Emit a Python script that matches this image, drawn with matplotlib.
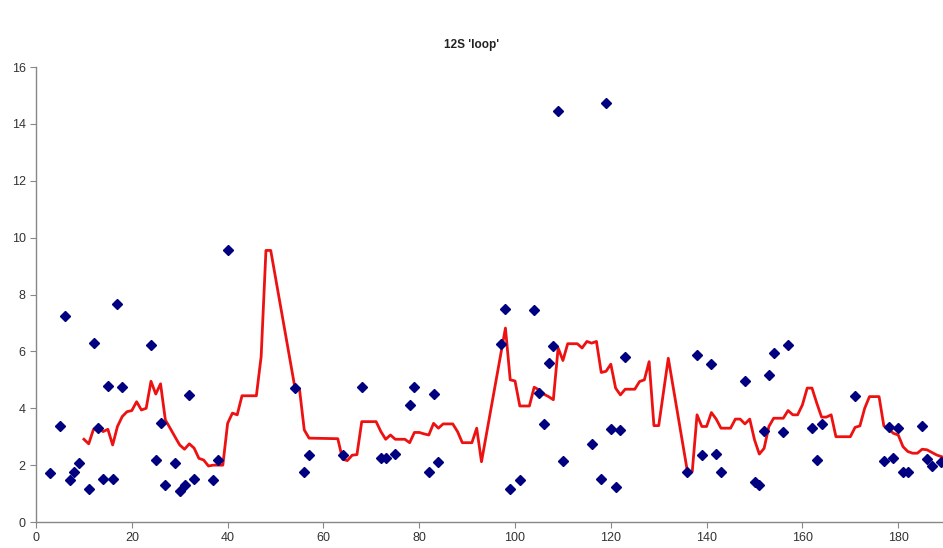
import matplotlib.pyplot as plt
plt.switch_backend('Agg')

plt.rcParams['font.family'] = ['Liberation Sans', 'DejaVu Sans']

title = "12S 'loop'"

# scatter points (position, value)
pts_x = [3, 5, 6, 7, 8, 9, 11, 12, 13, 14, 15, 16, 17, 18, 24, 25, 26, 27, 29, 30,
         31, 32, 33, 37, 38, 40, 54, 56, 57, 64, 68, 72, 73, 75, 78, 79, 82, 83, 84,
         97, 98, 99, 101, 104, 105, 106, 107, 108, 109, 110, 116, 118, 119, 120, 121,
         122, 123, 136, 138, 139, 141, 142, 143, 148, 150, 151, 152, 153, 154, 156,
         157, 162, 163, 164, 171, 177, 178, 179, 180, 181, 182, 185, 186, 187, 189]
pts_y = [1.74, 3.38, 7.23, 1.47, 1.75, 2.09, 1.16, 6.29, 3.32, 1.51, 4.78, 1.51, 7.68,
         4.74, 6.23, 2.17, 3.47, 1.31, 2.09, 1.09, 1.31, 4.45, 1.51, 1.47, 2.19, 9.55,
         4.71, 1.75, 2.36, 2.35, 4.74, 2.25, 2.25, 2.39, 4.12, 4.74, 1.76, 4.50, 2.10,
         6.26, 7.49, 1.16, 1.47, 7.45, 4.55, 3.46, 5.59, 6.20, 14.45, 2.16, 2.73, 1.53,
         14.75, 3.26, 1.24, 3.24, 5.79, 1.75, 5.87, 2.36, 5.56, 2.38, 1.76, 4.96, 1.42,
         1.30, 3.19, 5.18, 5.95, 3.15, 6.24, 3.30, 2.17, 3.46, 4.44, 2.16, 3.34, 2.25,
         3.29, 1.76, 1.76, 3.38, 2.21, 1.97, 2.10]

# moving average line
avg_x = [10, 11, 12, 13, 14, 15, 16, 17, 18, 19, 20, 21, 22, 23, 24, 25, 26, 27, 28,
         29, 30, 31, 32, 33, 34, 35, 36, 37, 38, 39, 40, 41, 42, 43, 46, 47, 48, 49,
         54, 55, 56, 57, 63, 64, 65, 66, 67, 68, 71, 72, 73, 74, 75, 77, 78, 79, 80,
         81, 82, 83, 84, 85, 87, 88, 89, 91, 92, 93, 98, 99, 100, 101, 103, 104, 105,
         106, 107, 108, 109, 110, 111, 113, 114, 115, 116, 117, 118, 119, 120, 121,
         122, 123, 125, 126, 127, 128, 129, 130, 132, 136, 137, 138, 139, 140, 141,
         142, 143, 145, 146, 147, 148, 149, 150, 151, 152, 153, 154, 156, 157, 158,
         159, 160, 161, 162, 163, 164, 165, 166, 167, 170, 171, 172, 173, 174, 176,
         177, 178, 179, 180, 181, 182, 183, 184, 185, 186, 187, 188, 189, 190]
avg_y = [2.91, 2.75, 3.26, 3.30, 3.18, 3.26, 2.71, 3.36, 3.71, 3.88, 3.92, 4.23, 3.94,
         4.00, 4.95, 4.50, 4.86, 3.59, 3.30, 3.00, 2.71, 2.56, 2.75, 2.60, 2.24, 2.18,
         1.97, 2.00, 2.00, 2.00, 3.47, 3.83, 3.77, 4.44, 4.44, 5.82, 9.55, 9.55, 4.77,
         4.68, 3.24, 2.95, 2.93, 2.21, 2.16, 2.35, 2.37, 3.53, 3.53, 3.18, 2.91, 3.06,
         2.91, 2.91, 2.79, 3.15, 3.15, 3.10, 3.06, 3.47, 3.30, 3.45, 3.45, 3.18, 2.79,
         2.79, 3.30, 2.12, 6.82, 5.00, 4.96, 4.08, 4.08, 4.74, 4.65, 4.50, 4.41, 4.30,
         6.12, 5.68, 6.27, 6.27, 6.12, 6.35, 6.29, 6.35, 5.26, 5.30, 5.55, 4.71, 4.47,
         4.67, 4.67, 4.94, 5.00, 5.64, 3.39, 3.39, 5.76, 1.77, 1.77, 3.77, 3.36, 3.36,
         3.85, 3.62, 3.30, 3.30, 3.62, 3.62, 3.45, 3.62, 2.89, 2.39, 2.59, 3.36, 3.65,
         3.65, 3.92, 3.77, 3.77, 4.12, 4.71, 4.71, 4.18, 3.69, 3.69, 3.77, 3.00, 3.00,
         3.33, 3.38, 4.00, 4.41, 4.41, 3.38, 3.26, 3.12, 3.06, 2.65, 2.48, 2.42, 2.42,
         2.56, 2.54, 2.45, 2.36, 2.30, 2.25]

fig = plt.figure(figsize=(9.43, 5.48), dpi=100)
ax = fig.add_axes([0.0382, 0.0474, 0.9618, 0.8303])

ax.plot(avg_x, avg_y, color='#ee1111', lw=2.0, zorder=2)
ax.plot(pts_x, pts_y, 'D', color='#000080', ms=5, ls='none', zorder=3)

ax.set_xlim(0, 189.35)
ax.set_ylim(0, 16)
ax.set_xticks(range(0, 181, 20))
ax.set_yticks(range(0, 17, 2))

for s in ['top', 'right']:
    ax.spines[s].set_visible(False)
for s in ['left', 'bottom']:
    ax.spines[s].set_color('#888888')
    ax.spines[s].set_linewidth(1.0)
ax.tick_params(direction='out', length=4, color='#888888', labelsize=9,
               labelcolor='#333333')

fig.text(0.5, 0.917, title, ha='center', va='center', fontsize=8.5,
         fontweight='bold', color='#222222')

plt.savefig('out.png', dpi=100)
